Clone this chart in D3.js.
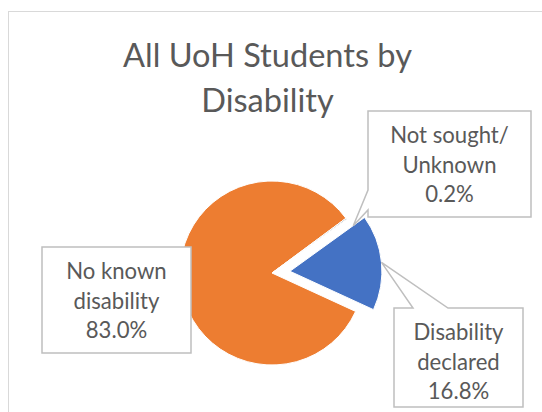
<!DOCTYPE html>
<html>
<head>
<meta charset="utf-8">
<script src="https://cdn.jsdelivr.net/npm/d3@7"></script>
<style>
  body { margin: 0; background: #fff; }
  svg { display: block; }
</style>
</head>
<body>
<svg id="canvas"></svg>
<script>
// data
const categories = ["Disability declared", "No known disability", "Not sought/Unknown"];
const values = [16.8, 83.0, 0.2];
const labelNames = [["Disability", "declared"], ["No known", "disability"], ["Not sought/", "Unknown"]];
const titleLines = ["All UoH Students by", "Disability"];
const colors = ["#4472C4", "#ED7D31", "#A5A5A5"];

function getConfig() {
  let canvasWidth = 542,
    canvasHeight = 412;
  let svg = d3.select("#canvas").attr("width", canvasWidth).attr("height", canvasHeight);
  let center = [272, 273];
  let radius = 92;
  let startAngle = (54.2 * Math.PI) / 180;
  let explode = [18, 0, 0];
  let font = "Lato, 'Open Sans', sans-serif";
  let textColor = "#595959";
  // label boxes (x, y, w, h) and their callout wedge
  let boxes = [
    { x: 394, y: 308, w: 129, h: 99, side: "top", base: [413, 448], shift: [0, 0] },
    { x: 42, y: 247, w: 149, h: 106, side: null },
    { x: 368, y: 111, w: 163, h: 106, side: "left", base: [190, 210], shift: [7, 7] },
  ];
  return { canvasWidth, canvasHeight, svg, center, radius, startAngle, explode, font, textColor, boxes };
}

function fitSize(svg, text, target, font) {
  let t = svg.append("text").style("font-family", font).style("font-size", "100px").text(text);
  let len = t.node().getComputedTextLength();
  t.remove();
  return (100 * target) / len;
}

function drawFrame(config) {
  let { svg, canvasWidth, canvasHeight } = config;
  svg
    .append("rect")
    .attr("x", 8.5)
    .attr("y", 11.5)
    .attr("width", canvasWidth)
    .attr("height", canvasHeight)
    .attr("fill", "#fff")
    .attr("stroke", "#D9D9D9")
    .attr("stroke-width", 1);
}

function drawTitle(config) {
  let { svg, font, textColor } = config;
  let size = fitSize(svg, titleLines[0], 289, font);
  svg
    .append("text")
    .attr("text-anchor", "middle")
    .style("font-family", font)
    .style("font-size", size + "px")
    .attr("fill", textColor)
    .selectAll("tspan")
    .data(titleLines)
    .enter()
    .append("tspan")
    .attr("x", 267.5)
    .attr("y", (d, i) => 67 + i * 44.5)
    .text((d) => d);
}

function drawPie(config) {
  let { svg, center, radius, startAngle, explode } = config;
  let pie = d3
    .pie()
    .sort(null)
    .startAngle(startAngle)
    .endAngle(startAngle + 2 * Math.PI);
  let arcs = pie(values);
  let arc = d3.arc().innerRadius(0).outerRadius(radius);

  let g = svg.append("g").attr("transform", `translate(${center[0]},${center[1]})`);
  g.selectAll("path")
    .data(arcs)
    .enter()
    .append("path")
    .attr("transform", (d, i) => {
      let a = (d.startAngle + d.endAngle) / 2;
      return `translate(${Math.sin(a) * explode[i]},${-Math.cos(a) * explode[i]})`;
    })
    .attr("fill", (d, i) => colors[i])
    .attr("stroke", "#fff")
    .attr("stroke-width", 1)
    .attr("d", arc);
  return arcs;
}

function drawLabels(arcs, config) {
  let { svg, center, radius, explode, boxes, font, textColor } = config;
  let size = fitSize(svg, labelNames[2][1], 94, font);
  let fmt = d3.format(".1f");

  boxes.forEach((b, i) => {
    let d = arcs[i];
    let a = (d.startAngle + d.endAngle) / 2;
    let r = radius + explode[i];
    let tip = [
      center[0] + Math.sin(a) * r + (b.shift ? b.shift[0] : 0),
      center[1] - Math.cos(a) * r + (b.shift ? b.shift[1] : 0),
    ];
    let p = d3.path();
    if (b.side === "top") {
      p.moveTo(b.x, b.y);
      p.lineTo(b.base[0], b.y);
      p.lineTo(tip[0], tip[1]);
      p.lineTo(b.base[1], b.y);
      p.lineTo(b.x + b.w, b.y);
      p.lineTo(b.x + b.w, b.y + b.h);
      p.lineTo(b.x, b.y + b.h);
      p.closePath();
    } else if (b.side === "left") {
      p.moveTo(b.x, b.y);
      p.lineTo(b.x + b.w, b.y);
      p.lineTo(b.x + b.w, b.y + b.h);
      p.lineTo(b.x, b.y + b.h);
      p.lineTo(b.x, b.base[1]);
      p.lineTo(tip[0], tip[1]);
      p.lineTo(b.x, b.base[0]);
      p.closePath();
    } else {
      p.rect(b.x, b.y, b.w, b.h);
    }
    svg
      .append("path")
      .attr("d", p.toString())
      .attr("fill", "#fff")
      .attr("stroke", "#BFBFBF")
      .attr("stroke-width", 1.5);

    let lines = labelNames[i].concat([fmt(values[i]) + "%"]);
    svg
      .append("text")
      .attr("text-anchor", "middle")
      .style("font-family", font)
      .style("font-size", size + "px")
      .attr("fill", textColor)
      .selectAll("tspan")
      .data(lines)
      .enter()
      .append("tspan")
      .attr("x", b.x + b.w / 2)
      .attr("y", (t, j) => b.y + 32 + j * 29.7)
      .text((t) => t);
  });
}

function showData() {
  let config = getConfig();
  drawFrame(config);
  drawTitle(config);
  let arcs = drawPie(config);
  drawLabels(arcs, config);
}

showData();
</script>
</body>
</html>
